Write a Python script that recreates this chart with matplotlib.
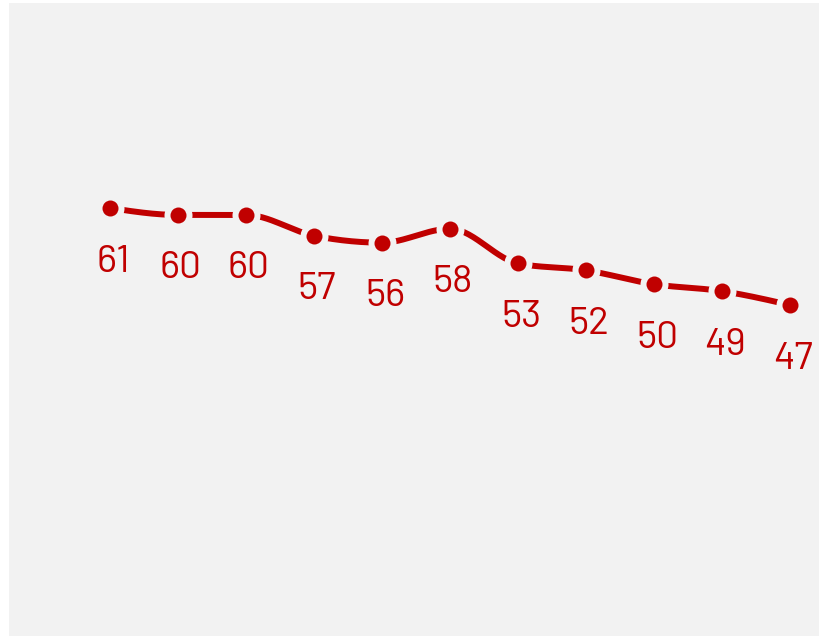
import numpy as np
import matplotlib
matplotlib.use("Agg")
import matplotlib.pyplot as plt
from matplotlib import font_manager

categories = list(range(11))
values = [61, 60, 60, 57, 56, 58, 53, 52, 50, 49, 47]
labels = [str(v) for v in values]

RED = "#c00000"
BG = "#f2f2f2"

def monotone(xs, ys, n=30):
    xs = np.asarray(xs, float); ys = np.asarray(ys, float)
    h = np.diff(xs); d = np.diff(ys) / h
    m = np.zeros(len(xs))
    for i in range(1, len(xs) - 1):
        s0, s1 = d[i-1], d[i]
        p = (s0 * h[i] + s1 * h[i-1]) / (h[i-1] + h[i])
        m[i] = (np.sign(s0) + np.sign(s1)) * min(abs(s0), abs(s1), 0.5 * abs(p))
    m[0] = (3 * d[0] - m[1]) / 2
    m[-1] = (3 * d[-1] - m[-2]) / 2
    X, Y = [], []
    for i in range(len(xs) - 1):
        t = np.linspace(0, 1, n)
        hh = h[i]
        h00 = 2*t**3 - 3*t**2 + 1; h10 = t**3 - 2*t**2 + t
        h01 = -2*t**3 + 3*t**2; h11 = t**3 - t**2
        X.append(xs[i] + t * hh)
        Y.append(h00*ys[i] + h10*hh*m[i] + h01*ys[i+1] + h11*hh*m[i+1])
    return np.concatenate(X), np.concatenate(Y)

fig = plt.figure(figsize=(8.2, 6.39), dpi=100)
fig.patch.set_facecolor("white")
ax = fig.add_axes([9/820, 3/639, 811/820, 633/639])
ax.set_facecolor(BG)
for s in ax.spines.values():
    s.set_visible(False)
ax.set_xticks([]); ax.set_yticks([])

ax.set_xlim((9 - 110) / 68, (820 - 110) / 68)
ppu = 97 / 14
top = 61 + (208 - 3) / ppu
bottom = 61 - (636 - 208) / ppu
ax.set_ylim(bottom, top)

sx, sy = monotone(categories, values)
ax.plot(sx, sy, color=RED, lw=4.3, solid_capstyle="butt", zorder=2)
ax.scatter(categories, values, s=(28*0.72)**2, color=BG, zorder=3, linewidths=0)
ax.scatter(categories, values, s=(16*0.72)**2, color=RED, zorder=4, linewidths=0)

avail = {f.name for f in font_manager.fontManager.ttflist}
fam = [f for f in ["Barlow", "Roboto"] if f in avail][:1] + ["DejaVu Sans"]
for x, v, lab in zip(categories, values, labels):
    ax.annotate(lab, (x, v), xytext=(3 * 0.72, -54 * 0.72), textcoords="offset points",
                ha="center", va="center", fontsize=28, color=RED, family=fam)

fig.savefig("out.png", dpi=100)
